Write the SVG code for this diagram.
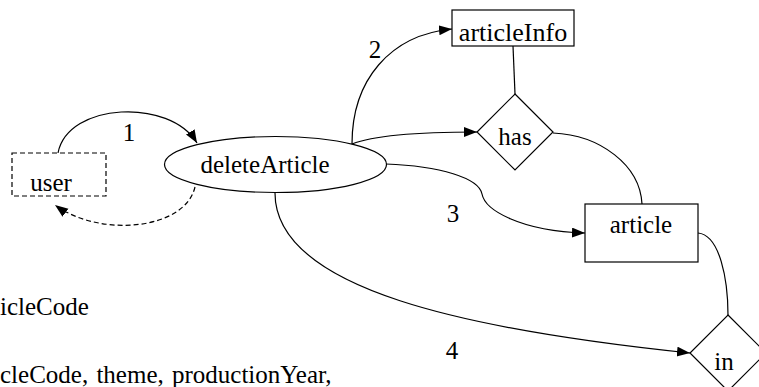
<svg xmlns="http://www.w3.org/2000/svg" width="759" height="387" viewBox="0 0 759 387">
  <style>
    text { font-family: "Liberation Serif", "Times New Roman", serif; font-size: 25px; fill: #000; }
    .mid { text-anchor: middle; }
    .shape { fill: #fff; stroke: #000; stroke-width: 1.2; }
    .dashed { stroke-dasharray: 5 3; }
    .edge { fill: none; stroke: #000; stroke-width: 1.2; }
  </style>
  <defs>
    <marker id="arrow" markerUnits="userSpaceOnUse" markerWidth="14" markerHeight="12" refX="13" refY="5" orient="auto">
      <path d="M0,0 L13,5 L0,10 Z" fill="#000"/>
    </marker>
  </defs>

  <!-- connectors -->
  <g id="connectors">
    <path class="edge" d="M58,153 C68,102 170,98 197,143" marker-end="url(#arrow)"/>
    <path class="edge dashed" d="M195,187 C185,230 100,238 55,205" marker-end="url(#arrow)"/>
    <path class="edge" d="M352,144 C352,80 390,35 452,29" marker-end="url(#arrow)"/>
    <path class="edge" d="M352,144 C372,136 420,132 477,132" marker-end="url(#arrow)"/>
    <path class="edge" d="M386,164 C440,166 479,178 482,194 C485,210 520,231 585,233" marker-end="url(#arrow)"/>
    <path class="edge" d="M275,193 C275,290 470,330 690,353" marker-end="url(#arrow)"/>
    <path class="edge" d="M513,46 L515,94"/>
    <path class="edge" d="M553,133 C600,135 640,165 642,204"/>
    <path class="edge" d="M698,233 C720,235 728,280 728,315"/>
    <text class="mid" x="129" y="141">1</text>
    <text class="mid" x="375" y="58">2</text>
    <text class="mid" x="453" y="222">3</text>
    <text class="mid" x="452" y="359">4</text>
  </g>

  <!-- nodes -->
  <g id="user">
    <rect class="shape dashed" x="12" y="153" width="94" height="43"/>
    <text class="mid" x="51" y="191">user</text>
  </g>
  <g id="deleteArticle">
    <ellipse class="shape" cx="275.5" cy="164.5" rx="111" ry="28"/>
    <text class="mid" x="265" y="173">deleteArticle</text>
  </g>
  <g id="articleInfo">
    <rect class="shape" x="452" y="10" width="122" height="36"/>
    <text class="mid" x="513" y="41" style="font-size:26px">articleInfo</text>
  </g>
  <g id="has">
    <polygon class="shape" points="515,94 553,132 515,170 477,132"/>
    <text class="mid" x="515" y="145">has</text>
  </g>
  <g id="article">
    <rect class="shape" x="585" y="204" width="113" height="58"/>
    <text class="mid" x="641" y="233">article</text>
  </g>
  <g id="in">
    <polygon class="shape" points="728,315 766,353 728,391 690,353"/>
    <text class="mid" x="724" y="370">in</text>
  </g>

  <!-- notes -->
  <g id="notes">
    <text x="0" y="315">icleCode</text>
    <text x="0" y="383" word-spacing="2">cleCode, theme, productionYear,</text>
  </g>
</svg>
